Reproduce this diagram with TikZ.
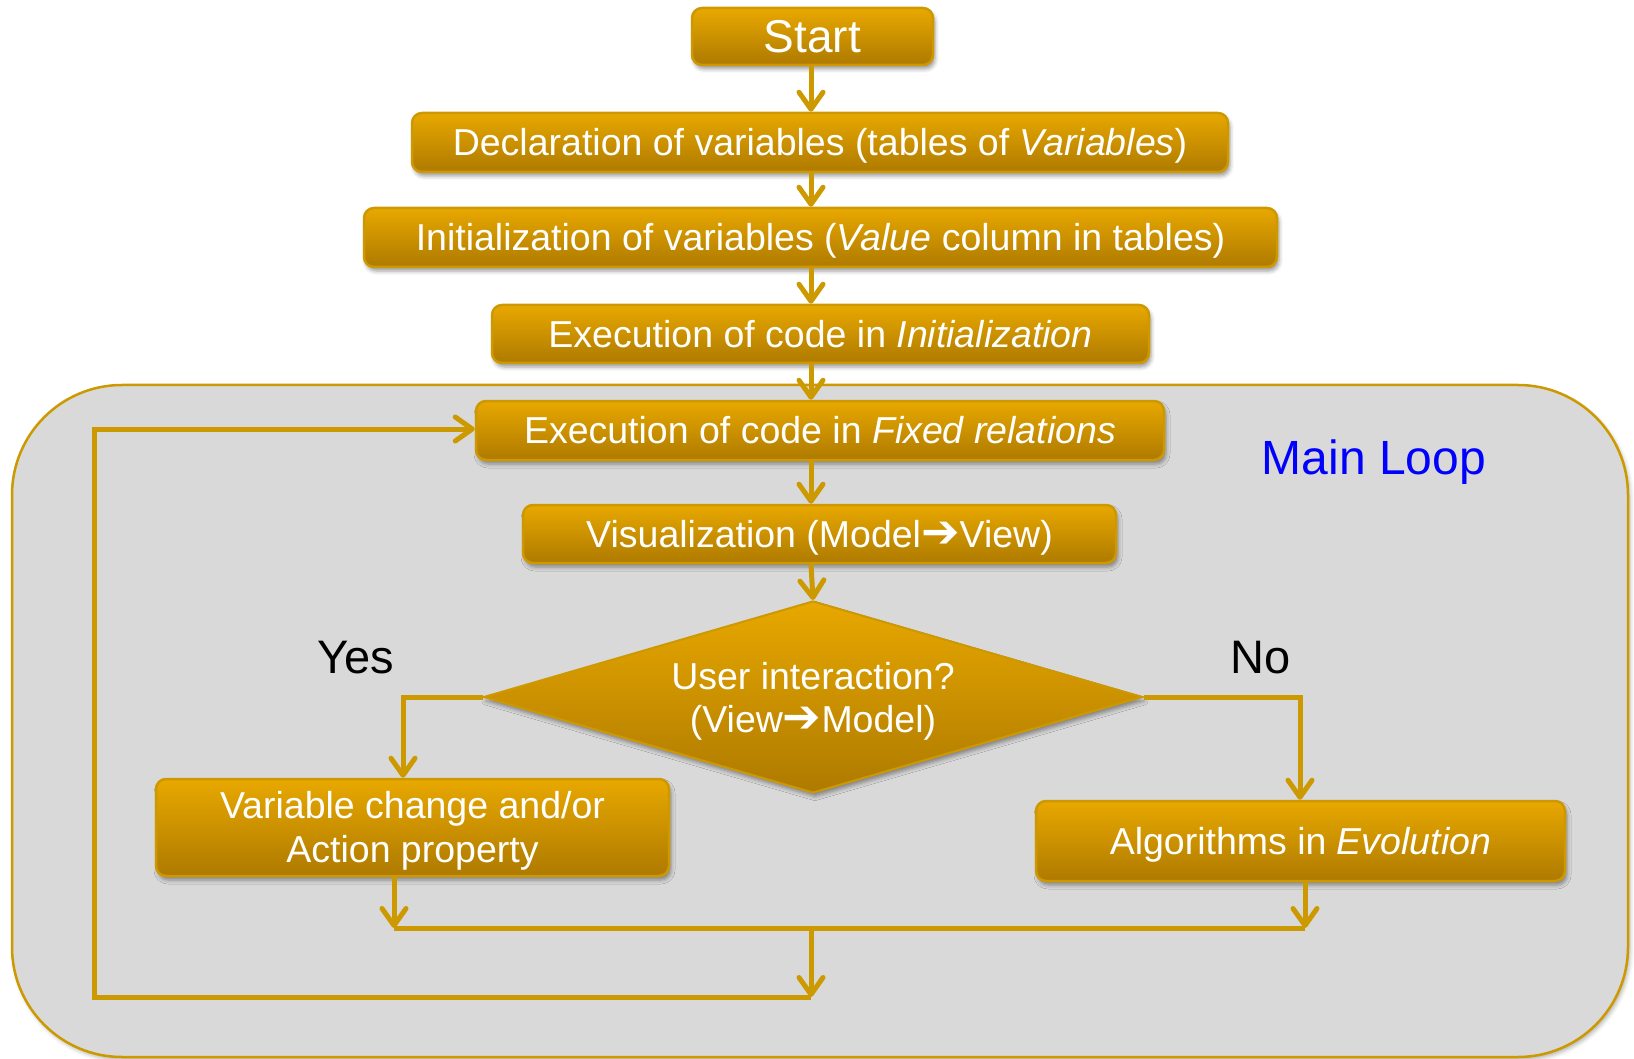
\documentclass[tikz,border=0pt]{standalone}
\usepackage{fontspec}
\setmainfont{Liberation Sans}
\newfontfamily\symfont{DejaVu Sans}
\usetikzlibrary{shapes.geometric,arrows.meta,shadows.blur}
\definecolor{boxtop}{RGB}{232,168,0}
\definecolor{boxbot}{RGB}{174,122,0}
\definecolor{boxedge}{RGB}{206,152,0}
\definecolor{linkc}{RGB}{204,153,0}
\definecolor{loopbg}{RGB}{217,217,217}
% heavy right arrow used inside the labels
\newcommand{\heavyarrow}{{\symfont\fontsize{46}{46}\selectfont\char"2794}}
% two centred lines, moved down by #1 without changing the box size
\newcommand{\twolines}[3]{\raisebox{-#1}[\height][\depth]{\begin{tabular}{@{}c@{}}#2\\#3\end{tabular}}}

\begin{document}
\begin{tikzpicture}[x=1pt,y=-1pt,
  gold/.style={top color=boxtop,bottom color=boxbot,text=white,align=center,inner sep=0pt,
    blur shadow={shadow xshift=2pt,shadow yshift=-4pt,shadow blur radius=4pt,shadow opacity=40}},
  stepbox/.style={gold,draw=boxedge,line width=2.5pt,rounded corners=10pt,
    font=\fontsize{37.5}{44}\selectfont,text height=26.8pt,text depth=0pt},
  twobox/.style={gold,draw=boxedge,line width=2.5pt,rounded corners=10pt,
    font=\fontsize{37.5}{44}\selectfont},
  decision/.style={gold,shape=diamond,draw=boxedge,line width=2pt,aspect=3.43,
    font=\fontsize{37.5}{43}\selectfont},
  loopframe/.style={draw=linkc,line width=2.5pt,fill=loopbg,rounded corners=110pt,
    inner sep=0pt,
    blur shadow={shadow xshift=2pt,shadow yshift=-3pt,shadow blur radius=4pt,shadow opacity=30}},
  conn/.style={draw=linkc,line width=5pt},
  arr/.style={conn,-{Straight Barb[length=17pt,width=24pt,round]}},
  lbl/.style={font=\fontsize{47}{52}\selectfont,anchor=base}
]
\useasboundingbox (0,0) rectangle (1634,1059);

% main loop background
\node[loopframe,minimum width=1616pt,minimum height=672pt] (mainloop) at (820,721) {};
\node[font=\fontsize{48}{56}\selectfont,text=blue,anchor=base] (looplbl) at (1374,474) {Main Loop};

% process steps
\node[stepbox,minimum width=241pt,minimum height=57pt,
  font=\fontsize{46}{50}\selectfont,text height=33pt] (start) at (812.5,36.5) {Start};
\node[stepbox,minimum width=816pt,minimum height=59pt] (decl) at (820,142.5)
  {Declaration of variables (tables of \textit{Variables})};
\node[stepbox,minimum width=913pt,minimum height=59pt] (init) at (820.5,237.5)
  {Initialization of variables (\textit{Value} column in tables)};
\node[stepbox,minimum width=657pt,minimum height=58pt] (exinit) at (820.5,334)
  {Execution of code in \textit{Initialization}};
\node[stepbox,minimum width=688pt,minimum height=59pt] (fixed) at (820,430.5)
  {Execution of code in \textit{Fixed relations}};
\node[stepbox,minimum width=593pt,minimum height=58pt] (vis) at (819.5,534)
  {Visualization (Model\heavyarrow View)};
\node[decision,minimum width=659pt,minimum height=192pt] (ask) at (813,697)
  {\twolines{5.5pt}{User interaction?}{(View\heavyarrow Model)}};
\node[twobox,minimum width=513pt,minimum height=97pt] (varch) at (412.5,827.5)
  {\twolines{4.2pt}{Variable change and/or}{Action property}};
\node[stepbox,minimum width=529pt,minimum height=80pt] (algo) at (1300.5,841)
  {Algorithms in \textit{Evolution}};

% branch labels
\node[lbl] (yes) at (356,673) {Yes};
\node[lbl] (no) at (1261,673) {No};

% helper points for the routing
\coordinate (col) at (811,0);
\coordinate (yesx) at (403,0);
\coordinate (nox) at (1300,0);
\coordinate (lout) at (394,0);
\coordinate (rout) at (1305,0);
\coordinate (mergey) at (0,928);
\coordinate (backy) at (0,997);
\coordinate (backx) at (94,0);
\coordinate (backtop) at (94,429);

% main column
\draw[arr] (col |- start.south) -- (col |- decl.north);
\draw[arr] (col |- decl.south) -- (col |- init.north);
\draw[arr] (col |- init.south) -- (col |- exinit.north);
\draw[arr] (col |- exinit.south) -- (col |- fixed.north);
\draw[arr] (col |- fixed.south) -- (col |- vis.north);
\draw[arr] (col |- vis.south) -- (ask.north);

% decision branches
\draw[arr] (ask.west) -| (yesx |- varch.north);
\draw[arr] (ask.east) -| (nox |- algo.north);

% merging the branches
\draw[arr] (lout |- varch.south) -- (lout |- mergey);
\draw[arr] (rout |- algo.south) -- (rout |- mergey);
\draw[conn] (lout |- mergey) -- (rout |- mergey);
\draw[arr] (col |- mergey) -- (col |- backy);

% loop back to the fixed relations
\draw[arr] (col |- backy) -- (backx |- backy) -- (backtop) -- (fixed.west |- backtop);
\end{tikzpicture}
\end{document}
